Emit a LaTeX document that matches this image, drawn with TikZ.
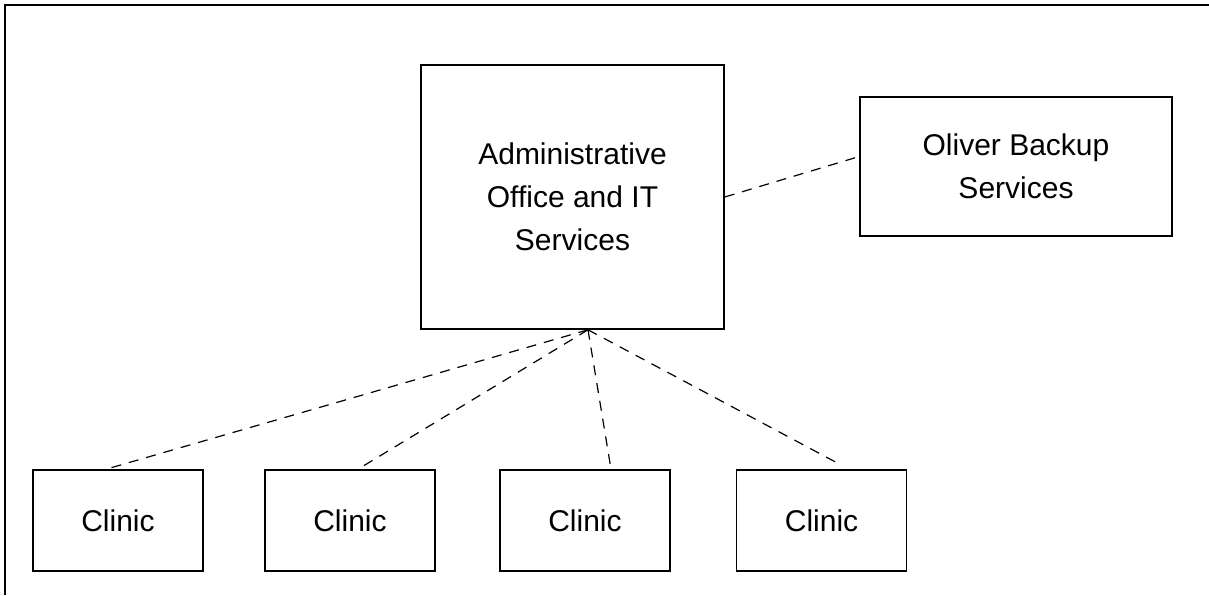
\documentclass[tikz,border=0pt]{standalone}
\usepackage{fontspec}
\setmainfont{Liberation Sans}
\usepackage{tikz}
\usetikzlibrary{positioning}

\begin{document}
\begin{tikzpicture}[x=0.5pt, y=-0.5pt,
      box/.style={rectangle, draw, line width=0.8pt, inner sep=0pt, align=center,
        font=\fontsize{15}{21.5}\selectfont},
      office/.style={box, minimum width=151.5pt, minimum height=132pt},
      backup/.style={box, minimum width=156pt, minimum height=69.5pt},
      clinic/.style={box, minimum width=85pt, minimum height=50.5pt},
      link/.style={line width=0.6pt, dash pattern=on 5pt off 4pt}]

      \useasboundingbox (0,0) rectangle (1209,595);
      \draw[line width=1pt] (5,595) -- (5,5) -- (1209,5);

      \node[office] (admin) at (572.5,197) {Administrative\\Office and IT\\Services};
      \node[backup] (oliver) at (1016,166.5) {Oliver Backup\\Services};
      \node[clinic] (c1) at (118,520.5) {Clinic};
      \node[clinic] (c2) at (350,520.5) {Clinic};
      \node[clinic] (c3) at (585,520.5) {Clinic};
      \node[clinic] (c4) at (821.5,520.5) {Clinic};

      % Links
      \draw[link] (admin.east) -- ([yshift=5pt]oliver.west);
      \draw[link] ([xshift=7.75pt]admin.south) -- ([xshift=-6pt]c1.north);
      \draw[link] ([xshift=7.75pt]admin.south) -- ([xshift=4pt]c2.north);
      \draw[link] ([xshift=7.75pt]admin.south) -- ([xshift=13pt]c3.north);
      \draw[link] ([xshift=7.75pt]admin.south) -- ([xshift=10pt,yshift=2pt]c4.north);
\end{tikzpicture}
\end{document}
